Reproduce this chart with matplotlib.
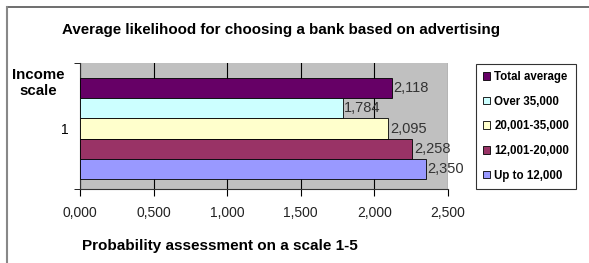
import matplotlib
matplotlib.use("Agg")
import matplotlib.pyplot as plt
from matplotlib.lines import Line2D
from matplotlib.patches import Patch

plt.rcParams['font.family'] = ['Liberation Sans', 'DejaVu Sans']

series = ["Total average", "Over 35,000", "20,001-35,000", "12,001-20,000", "Up to 12,000"]
values = [2.118, 1.784, 2.095, 2.258, 2.350]
colors = ["#660066", "#CCFFFF", "#FFFFCC", "#993366", "#9999FF"]
category = ["1"]
xticks = [0.0, 0.5, 1.0, 1.5, 2.0, 2.5]

W, H = 589, 263
fig = plt.figure(figsize=(W / 100, H / 100), dpi=100)
ax = fig.add_axes([80 / W, (H - 189) / H, 368 / W, 126 / H])
ax.set_facecolor("#C0C0C0")

n = len(series)
bh = 0.8 / n
for i, (name, v, c) in enumerate(zip(series, values, colors)):
    y = 0.4 - bh * (i + 0.5)
    ax.barh(y, v, height=bh, color=c, edgecolor="black", linewidth=0.6, zorder=3)
    ax.text(v + 0.01, y, f"{v:.3f}".replace(".", ","), va="center", ha="left",
            fontsize=10.5, color="#333333", zorder=4)

ax.set_xlim(0, 2.5)
ax.set_ylim(-0.48, 0.52)
ax.set_xticks(xticks)
ax.set_xticklabels([f"{t:.3f}".replace(".", ",") for t in xticks], fontsize=10, color="#222222")
ax.set_yticks([0])
ax.set_yticklabels(category, fontsize=10)
ax.tick_params(axis="y", length=0, pad=8)
ax.set_yticks([-0.48, 0.52], minor=True)
ax.tick_params(axis="y", which="minor", length=4, direction="out")
ax.tick_params(axis="x", length=5, direction="out", pad=7)
ax.xaxis.grid(True, color="black", linewidth=0.8, zorder=1)
ax.set_axisbelow(True)
for s in ["top", "right"]:
    ax.spines[s].set_visible(False)
ax.spines["bottom"].set_color("#333333")
ax.spines["left"].set_color("#333333")

fig.text(281 / W, 1 - 30 / H, "Average likelihood for choosing a bank based on advertising",
         ha="center", va="center", fontsize=10.9, fontweight="bold")
fig.text(38 / W, 1 - 83 / H, "Income\nscale", ha="center", va="center",
         fontsize=10.8, fontweight="bold", linespacing=1.15)
fig.text(82 / W, 1 - 246 / H, "Probability assessment on a scale 1-5", ha="left", va="center",
         fontsize=11, fontweight="bold")

handles = [Patch(facecolor=c, edgecolor="black", linewidth=0.6) for c in colors]
leg = fig.legend(handles, series, loc="upper left", bbox_to_anchor=(476 / W, 1 - 64 / H),
                 frameon=True, fancybox=False, edgecolor="black",
                 prop={"weight": "bold", "size": 8.3}, handlelength=0.65, handleheight=0.65,
                 handletextpad=0.35, labelspacing=1.1, borderpad=0.6, borderaxespad=0)
leg.get_frame().set_linewidth(0.8)

fig.add_artist(Line2D([7 / W, 1], [1 - 7 / H, 1 - 7 / H], color="#555555", linewidth=1.2))
fig.add_artist(Line2D([7 / W, 7 / W], [0, 1 - 7 / H], color="#888888", linewidth=1.5))

fig.savefig("out.png", dpi=100)
